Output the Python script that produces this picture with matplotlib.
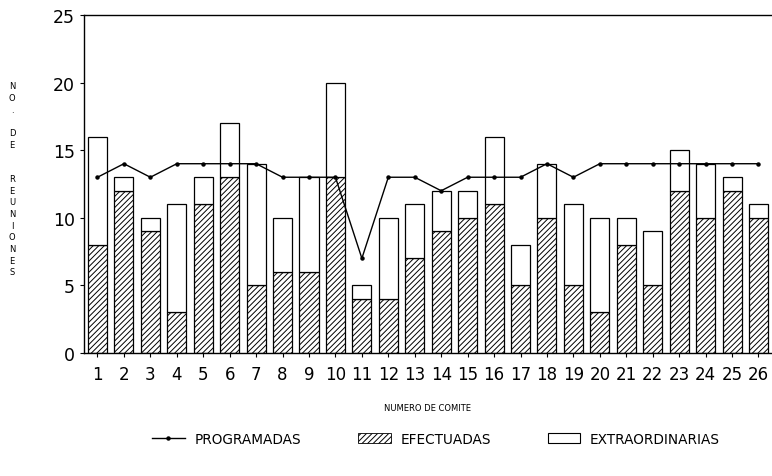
import matplotlib
matplotlib.use("Agg")
import matplotlib.pyplot as plt
import numpy as np
from matplotlib.lines import Line2D
from matplotlib.patches import Patch

comites = list(range(1, 27))
efectuadas = [8, 12, 9, 3, 11, 13, 5, 6, 6, 13, 4, 4, 7, 9, 10, 11, 5, 10, 5, 3, 8, 5, 12, 10, 12, 10]
totales = [16, 13, 10, 11, 13, 17, 14, 10, 13, 20, 5, 10, 11, 12, 12, 16, 8, 14, 11, 10, 10, 9, 15, 14, 13, 11]
programadas = [13, 14, 13, 14, 14, 14, 14, 13, 13, 13, 7, 13, 13, 12, 13, 13, 13, 14, 13, 14, 14, 14, 14, 14, 14, 14]
extraordinarias = [t - e for t, e in zip(totales, efectuadas)]
y_ticks = [0, 5, 10, 15, 20, 25]

plt.rcParams['hatch.linewidth'] = 0.7
fig = plt.figure(figsize=(7.72, 4.77), dpi=100)
ax = fig.add_axes([84/772, 1 - 354/477, (773-84)/772, (354-16)/477])

x = np.array(comites)
ax.bar(x, efectuadas, width=0.72, color='white', edgecolor='black', hatch='//////', linewidth=0.9)
ax.bar(x, extraordinarias, bottom=efectuadas, width=0.72, color='white', edgecolor='black', linewidth=0.9)
ax.plot(x, programadas, color='black', linewidth=1.0, marker='o', markersize=2.2)

ax.set_xlim(0.49, 26.55)
ax.set_ylim(0, 25)
ax.set_yticks(y_ticks)
ax.set_xticks(comites)
ax.tick_params(axis='y', labelsize=12.5, length=3, width=0.8, direction='out')
ax.tick_params(axis='x', labelsize=12, length=3, width=0.8, direction='out', pad=6)
for s in ax.spines.values():
    s.set_linewidth(1.0)

# vertical stacked y label
letters = ["N", "O", ".", "", "D", "E", "", "", "R", "E", "U", "N", "I", "O", "N", "E", "S"]
y0 = 87
for i, ch in enumerate(letters):
    if ch:
        fig.text(12/772, 1 - (y0 + i * 11.6)/477, ch, fontsize=6, ha='center', va='center')

fig.text(428/772, 1 - 409/477, "NUMERO DE COMITE", fontsize=6, ha='center', va='center')

handles = [
    Line2D([0], [0], color='black', linewidth=1.0, marker='o', markersize=2.2),
    Patch(facecolor='white', edgecolor='black', hatch='//////', linewidth=0.6),
    Patch(facecolor='white', edgecolor='black', linewidth=0.8),
]
fig.legend(handles, ["PROGRAMADAS", "EFECTUADAS", "EXTRAORDINARIAS"], loc='center',
           bbox_to_anchor=(436/772, 1 - 440/477), ncol=3, frameon=False, fontsize=9.8,
           handlelength=2.4, columnspacing=4.2, handletextpad=0.7)

fig.savefig("out.png", dpi=100)
